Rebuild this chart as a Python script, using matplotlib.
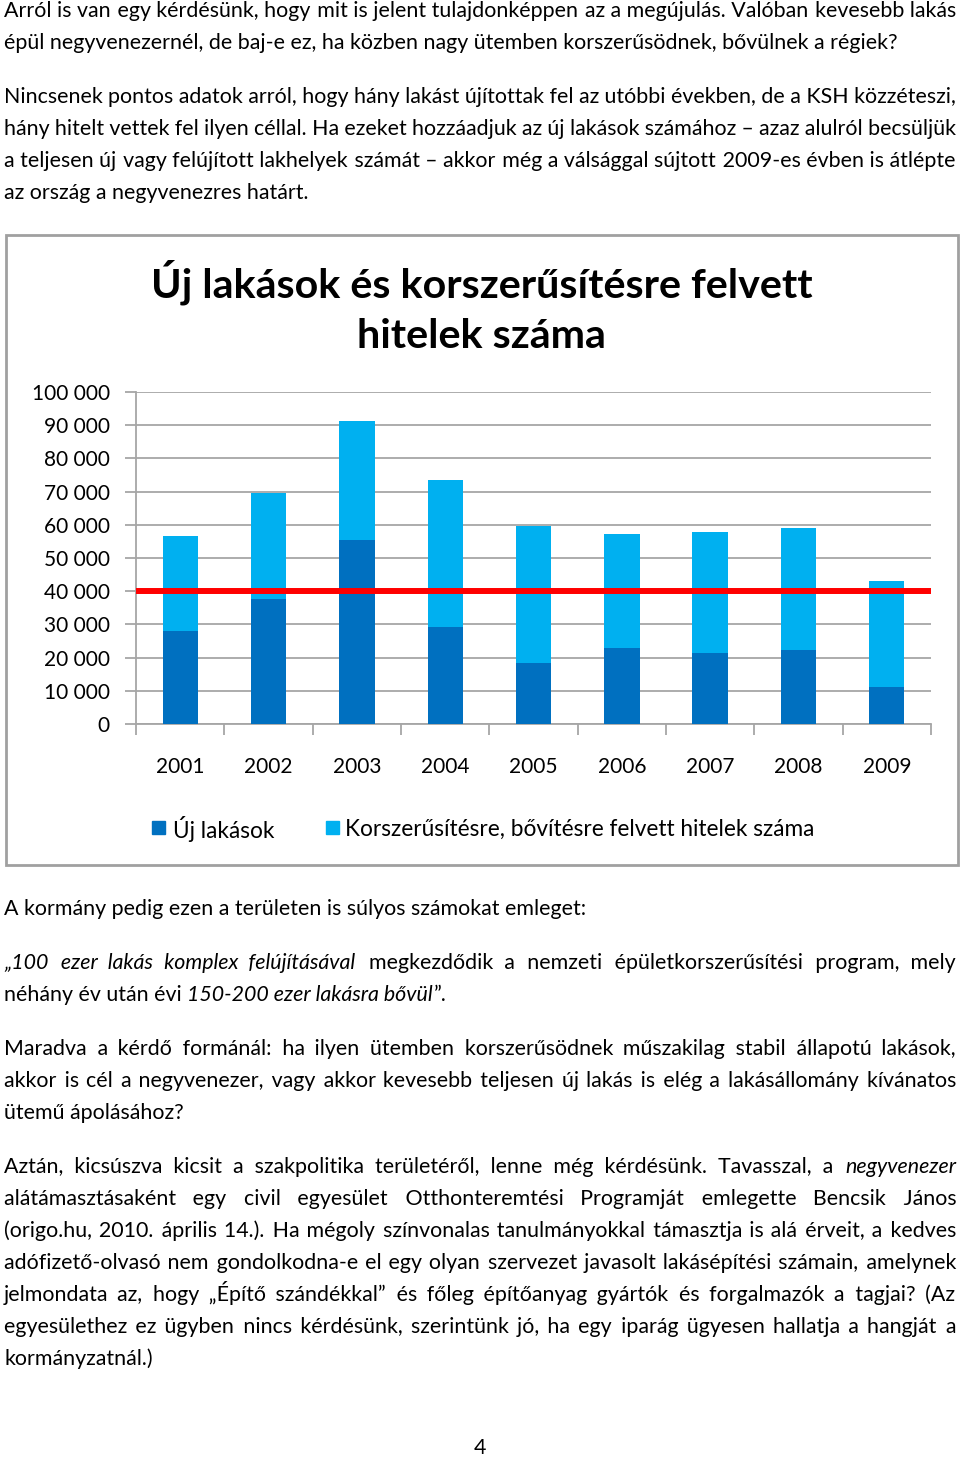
import matplotlib
matplotlib.use('Agg')
import matplotlib.pyplot as plt
from matplotlib.patches import Rectangle
from matplotlib.ticker import FuncFormatter
import numpy as np

# --- adatok ---
years = ['2001', '2002', '2003', '2004', '2005', '2006', '2007', '2008', '2009']
uj_lakasok = [28100, 37700, 55500, 29200, 18500, 23000, 21300, 22300, 11200]
korszerusites = [28600, 31900, 35900, 44300, 41000, 34200, 36500, 36600, 32000]
hatar = 40000
y_ticks = list(range(0, 100001, 10000))

cim = ['Új lakások és korszerűsítésre felvett', 'hitelek száma']
jelmagyarazat = ['Új lakások', 'Korszerűsítésre, bővítésre felvett hitelek száma']

# bekezdések: (szegmensek, sorkizárt)  - szegmens: (szöveg, dőlt)
bek1 = [
    ([('Arról is van egy kérdésünk, hogy mit is jelent tulajdonképpen az a megújulás. Valóban kevesebb lakás', False)], True),
    ([('épül negyvenezernél, de baj-e ez, ha közben nagy ütemben korszerűsödnek, bővülnek a régiek?', False)], False),
]
bek2 = [
    ([('Nincsenek pontos adatok arról, hogy hány lakást újítottak fel az utóbbi években, de a KSH közzéteszi,', False)], True),
    ([('hány hitelt vettek fel ilyen céllal. Ha ezeket hozzáadjuk az új lakások számához – azaz alulról becsüljük', False)], True),
    ([('a teljesen új vagy felújított lakhelyek számát – akkor még a válsággal sújtott 2009-es évben is átlépte', False)], True),
    ([('az ország a negyvenezres határt.', False)], False),
]
bek3 = [
    ([('A kormány pedig ezen a területen is súlyos számokat emleget:', False)], False),
]
bek4 = [
    ([('„100 ezer lakás komplex felújításával ', True),
      ('megkezdődik a nemzeti épületkorszerűsítési program, mely', False)], True),
    ([('néhány év után évi ', False), ('150-200 ezer lakásra bővül', True), ('”.', False)], False),
]
bek5 = [
    ([('Maradva a kérdő formánál: ha ilyen ütemben korszerűsödnek műszakilag stabil állapotú lakások,', False)], True),
    ([('akkor is cél a negyvenezer, vagy akkor kevesebb teljesen új lakás is elég a lakásállomány kívánatos', False)], True),
    ([('ütemű ápolásához?', False)], False),
]
bek6 = [
    ([('Aztán, kicsúszva kicsit a szakpolitika területéről, lenne még kérdésünk. Tavasszal, a ', False),
      ('negyvenezer', True)], True),
    ([('alátámasztásaként egy civil egyesület Otthonteremtési Programját emlegette Bencsik János', False)], True),
    ([('(origo.hu, 2010. április 14.). Ha mégoly színvonalas tanulmányokkal támasztja is alá érveit, a kedves', False)], True),
    ([('adófizető-olvasó nem gondolkodna-e el egy olyan szervezet javasolt lakásépítési számain, amelynek', False)], True),
    ([('jelmondata az, hogy „Építő szándékkal” és főleg építőanyag gyártók és forgalmazók a tagjai? (Az', False)], True),
    ([('egyesülethez ez ügyben nincs kérdésünk, szerintünk jó, ha egy iparág ügyesen hallatja a hangját a', False)], True),
    ([('kormányzatnál.)', False)], False),
]
oldalszam = '4'

DARK = '#0070C0'
LIGHT = '#00B0F0'
GRID = '#A6A6A6'
THIN = '\u2009'
HAIR = '\u200a'
plt.rcParams['font.family'] = ['Lato', 'DejaVu Sans']

fig = plt.figure(figsize=(9.6, 14.6), dpi=100)
page = fig.add_axes([0, 0, 1, 1])
page.set_xlim(0, 960)
page.set_ylim(1460, 0)
page.axis('off')
r = fig.canvas.get_renderer()


def szelesseg(s, fs, it=False, **kw):
    t = page.text(0, 0, s, fontsize=fs, style='italic' if it else 'normal', **kw)
    w = t.get_window_extent(renderer=r).width
    t.remove()
    return w


def szavak(segs):
    words = []
    uj = True
    for txt, it in segs:
        for k, p in enumerate(txt.split(' ')):
            if k > 0:
                uj = True
            if p == '':
                continue
            if uj:
                words.append([])
                uj = False
            words[-1].append((p, it))
    return words


LEFT, RIGHT = 4, 956
FS0 = 15.4

# betűméret úgy, hogy a sorkizárt sorok elférjenek
sp0 = szelesseg('n n', FS0) - szelesseg('nn', FS0)
need = 0
for bek in [bek1, bek2, bek4, bek5, bek6]:
    for segs, just in bek:
        if just:
            ws = szavak(segs)
            tot = sum(szelesseg(p, FS0, it) for w in ws for p, it in w)
            need = max(need, tot + (len(ws) - 1) * sp0 * 0.75)
FS = FS0 * min(1.0, (RIGHT - LEFT) / need)
nn = szelesseg('nn', FS)
SPW = {c: szelesseg('n' + c + 'n', FS) - nn for c in [' ', THIN, HAIR]}
FINE = HAIR if SPW[HAIR] > 0.5 else THIN


def hezagok(g, n):
    out, carry = [], 0.0
    for _ in range(n):
        rem = g + carry
        s = ''
        for c in [' ', THIN, FINE]:
            if SPW[c] <= 0.5:
                continue
            k = int(round(rem / SPW[c])) if c == FINE else int(rem // SPW[c])
            k = max(k, 0)
            s += c * k
            rem -= SPW[c] * k
        if s == '':
            s = FINE
            rem -= SPW[FINE]
        carry = rem
        out.append(s)
    return out


def futamok(ws, gaps):
    # azonos stílusú darabok egy szövegbe
    runs = []  # [dolt, szoveg, hezag_utana]
    for i, w in enumerate(ws):
        for j, (p, it) in enumerate(w):
            if runs and runs[-1][0] == it and runs[-1][2] == '':
                runs[-1][1] += p
            else:
                if runs and j > 0:
                    runs[-1][2] = None  # szón belüli stílusváltás
                runs.append([it, p, ''])
        if i < len(gaps):
            nxt = ws[i + 1][0][1]
            if nxt == runs[-1][0]:
                runs[-1][1] += gaps[i]
            else:
                runs[-1][2] = gaps[i]
    return runs


def elrendez(runs):
    pos, x = [], LEFT
    for it, s, g in runs:
        pos.append(x)
        x += szelesseg(s, FS, it)
        if g is None:
            x += 1
        elif g:
            x += sum(SPW[c] for c in g)
    return pos, x - LEFT


def sor(y, segs, just):
    ws = szavak(segs)
    n = len(ws) - 1
    if just and n > 0:
        nat = sum(szelesseg(p, FS, it) for w in ws for p, it in w)
        gaps = hezagok((RIGHT - LEFT - nat) / n, n)
    else:
        gaps = [' '] * n
    runs = futamok(ws, gaps)
    pos, tot = elrendez(runs)
    k = 0
    while just and n > 0 and abs(RIGHT - LEFT - tot) > SPW[FINE] * 0.6 and k < 60:
        idx = (k * 7) % n
        if RIGHT - LEFT - tot > 0:
            gaps[idx] += FINE
        elif FINE in gaps[idx] and len(gaps[idx]) > 1:
            gaps[idx] = gaps[idx].replace(FINE, '', 1)
        runs = futamok(ws, gaps)
        pos, tot = elrendez(runs)
        k += 1
    for (it, s, g), x in zip(runs, pos):
        page.text(x, y, s, fontsize=FS, style='italic' if it else 'normal',
                  ha='left', va='baseline', color='black')


for start, bek in [(17, bek1), (103, bek2), (915, bek3), (969, bek4), (1055, bek5), (1173, bek6)]:
    for i, (segs, just) in enumerate(bek):
        sor(start + 32 * i, segs, just)

page.text(480, 1454, oldalszam, fontsize=FS, ha='center', va='baseline')

# diagram kerete
page.add_patch(Rectangle((6, 235), 952, 630, fill=False, edgecolor='#A0A0A0', lw=2))

# cím
tfs = 30 * 660 / szelesseg(cim[0], 30, fontweight='bold')
page.text(482, 282, cim[0], fontsize=tfs, fontweight='bold', ha='center', va='center')
page.text(481, 336, cim[1], fontsize=tfs, fontweight='bold', ha='center', va='center')

# jelmagyarázat
lfs = 15 * 471 / szelesseg(jelmagyarazat[1], 15)
page.add_patch(Rectangle((152, 821), 13, 13, color=DARK))
page.text(173, 829, jelmagyarazat[0], fontsize=lfs, ha='left', va='center')
page.add_patch(Rectangle((326, 821), 13, 13, color=LIGHT))
page.text(345, 829, jelmagyarazat[1], fontsize=lfs, ha='left', va='center')

# oszlopdiagram
ax = fig.add_axes([136 / 960, 1 - 724 / 1460, 795 / 960, 332 / 1460])
ax.set_facecolor('none')
x = np.arange(len(years))
ax.bar(x, uj_lakasok, 0.4, color=DARK, zorder=3)
ax.bar(x, korszerusites, 0.4, bottom=uj_lakasok, color=LIGHT, zorder=3)
ax.axhline(hatar, color='#FF0000', lw=4.3, zorder=4)
ax.set_xlim(-0.5, len(years) - 0.5)
ax.set_ylim(0, 100000)
ax.set_yticks(y_ticks)
ax.yaxis.set_major_formatter(FuncFormatter(lambda v, p: f'{int(v):,}'.replace(',', ' ')))
ax.grid(axis='y', color=GRID, lw=1.3, zorder=0)
ax.set_axisbelow(True)
for s in ['top', 'right']:
    ax.spines[s].set_visible(False)
for s in ['left', 'bottom']:
    ax.spines[s].set_color(GRID)
    ax.spines[s].set_linewidth(1.3)
ax.tick_params(axis='y', length=8, width=1.3, color=GRID, pad=10.8, labelsize=15)
ax.set_xticks(x)
ax.set_xticklabels(years)
ax.set_xticks(np.arange(-0.5, len(years)), minor=True)
ax.tick_params(axis='x', which='major', length=0, pad=24, labelsize=15)
ax.tick_params(axis='x', which='minor', length=8, width=1.3, color=GRID)

fig.savefig('out.png', dpi=100)
